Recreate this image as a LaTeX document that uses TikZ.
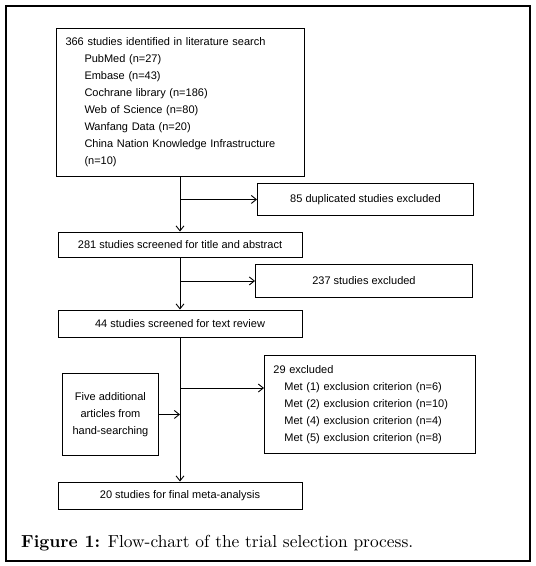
\documentclass[tikz,border=0pt]{standalone}
\usepackage{fontspec}
\newfontfamily\sansf{Liberation Sans}
\usetikzlibrary{arrows.meta}
\begin{document}
\begin{tikzpicture}[x=1pt,y=-1pt,
  box/.style={draw=black, line width=0.9pt, inner sep=0pt, font=\sansf\fontsize{11}{17}\selectfont},
  conn/.style={line width=0.9pt, -{Straight Barb[length=5pt,width=8pt]}},
  frame/.style={line width=2.5pt}]
\useasboundingbox (0,0) rectangle (536,566);
\draw[frame] (6,6) rectangle (530,561);

\node[box, minimum width=248pt, minimum height=148pt, text width=229pt, align=left] (search) at (180,102)
  {366 studies identified in literature search\\
   \hspace*{19pt}PubMed (n=27)\\
   \hspace*{19pt}Embase (n=43)\\
   \hspace*{19pt}Cochrane library (n=186)\\
   \hspace*{19pt}Web of Science (n=80)\\
   \hspace*{19pt}Wanfang Data (n=20)\\
   \hspace*{19pt}China Nation Knowledge Infrastructure\\
   \hspace*{19pt}(n=10)};

\node[box, anchor=north west, minimum width=216pt, minimum height=32pt] (dup) at (257,183) {85 duplicated studies excluded};
\node[box, minimum width=244pt, minimum height=25pt] (s281) at (180,244.5) {281 studies screened for title and abstract};
\node[box, anchor=north west, minimum width=217pt, minimum height=33pt] (e237) at (255,264) {237 studies excluded};
\node[box, minimum width=244pt, minimum height=27pt] (s44) at (180,323.5) {44 studies screened for text review};
\node[box, anchor=north west, minimum width=211pt, minimum height=98pt, text width=193pt, align=left] (e29) at (264,355)
  {29 excluded\\
   \hspace*{11pt}Met (1) exclusion criterion (n=6)\\
   \hspace*{11pt}Met (2) exclusion criterion (n=10)\\
   \hspace*{11pt}Met (4) exclusion criterion (n=4)\\
   \hspace*{11pt}Met (5) exclusion criterion (n=8)};
\node[box, anchor=north west, minimum width=96pt, minimum height=82pt, align=center] (five) at (62,373)
  {Five additional\\articles from\\hand-searching};
\node[box, minimum width=244pt, minimum height=27pt] (s20) at (180,495.5) {20 studies for final meta-analysis};

\draw[conn] (search.south) -- (s281.north);
\draw[conn] (search.south |- dup.west) -- (dup.west);
\draw[conn] (s281.south) -- (s44.north);
\draw[conn] (s281.south |- e237.west) -- (e237.west);
\draw[conn] (s44.south) -- (s20.north);
\coordinate (b29) at (180,388);
\draw[conn] (b29) -- (b29 -| e29.west);
\draw[conn] (five.east) -- (five.east -| s44.south);

\node[anchor=west, inner sep=0pt] (cap) at (21,543)
  {\resizebox{392pt}{!}{\textbf{Figure 1:} Flow-chart of the trial selection process.}};
\end{tikzpicture}
\end{document}
